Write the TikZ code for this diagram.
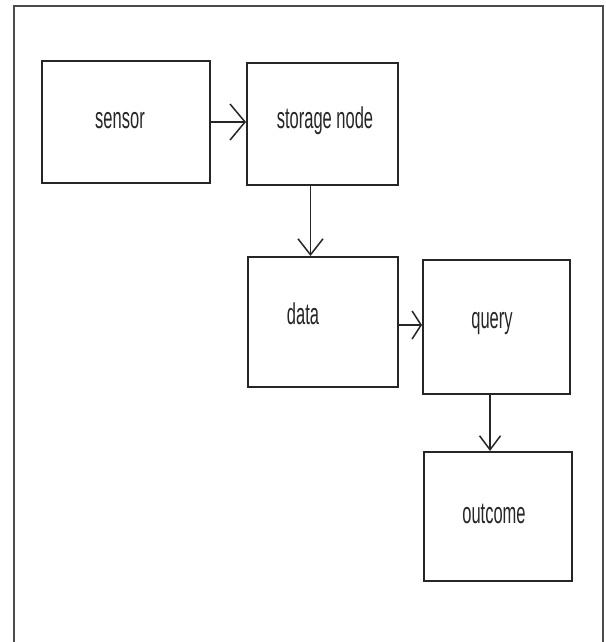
\documentclass[tikz,border=0pt]{standalone}
\usepackage{fontspec}
\newfontfamily\condfont[FakeStretch=0.55]{Liberation Sans}
\usetikzlibrary{arrows.meta}
\begin{document}
\begin{tikzpicture}[x=1pt,y=-1pt,
  box/.style={draw=black!85,line width=2pt,rectangle,inner sep=0pt},
  lbl/.style={font=\condfont\fontsize{30}{30}\selectfont,text=black!85,inner sep=0pt},
  arr/.style={draw=black!85,line width=1.5pt},
  frame/.style={draw=black!70,line width=2pt}]
\useasboundingbox (0,0) rectangle (605,642);
\fill[white] (0,0) rectangle (605,642);
% outer frame (open at the bottom)
\coordinate (fbl) at (14,642);
\coordinate (ftl) at (14,6);
\coordinate (ftr) at (603,6);
\coordinate (fbr) at (603,642);
\draw[frame] (fbl) -- (ftl) -- (ftr) -- (fbr);
% boxes
\node[box,minimum width=168pt,minimum height=121pt] (sensor) at (126,122) {};
\node[box,minimum width=151pt,minimum height=121pt] (storage) at (322.5,124) {};
\node[box,minimum width=150pt,minimum height=130pt] (data) at (323,322) {};
\node[box,minimum width=147pt,minimum height=134pt] (query) at (496.5,327) {};
\node[box,minimum width=148pt,minimum height=129pt] (outcome) at (498,516.5) {};
% labels
\node[lbl] (tsensor) at (120,120.5) {sensor};
\node[lbl] (tstorage) at (325,121) {storage node};
\node[lbl] (tdata) at (303,314) {data};
\node[lbl] (tquery) at (492,324) {query};
\node[lbl] (toutcome) at (494,514) {outcome};
% connectors
\draw[arr,-{Straight Barb[length=15pt,width=36pt,line width=1.5pt]}] (sensor.east) -- (sensor.east -| storage.west);
\draw[arr,-{Straight Barb[length=16pt,width=25pt,line width=1.5pt]}] ([xshift=-12pt]storage.south) -- ([xshift=-12pt]storage.south |- data.north);
\draw[arr,-{Straight Barb[length=9pt,width=28pt,line width=1.5pt]}] ([yshift=-3pt]data.east) -- ([yshift=-3pt]data.east -| query.west);
\draw[arr,-{Straight Barb[length=14pt,width=21pt,line width=1.5pt]}] ([xshift=-6.5pt]query.south) -- ([xshift=-6.5pt]query.south |- outcome.north);
\end{tikzpicture}
\end{document}
